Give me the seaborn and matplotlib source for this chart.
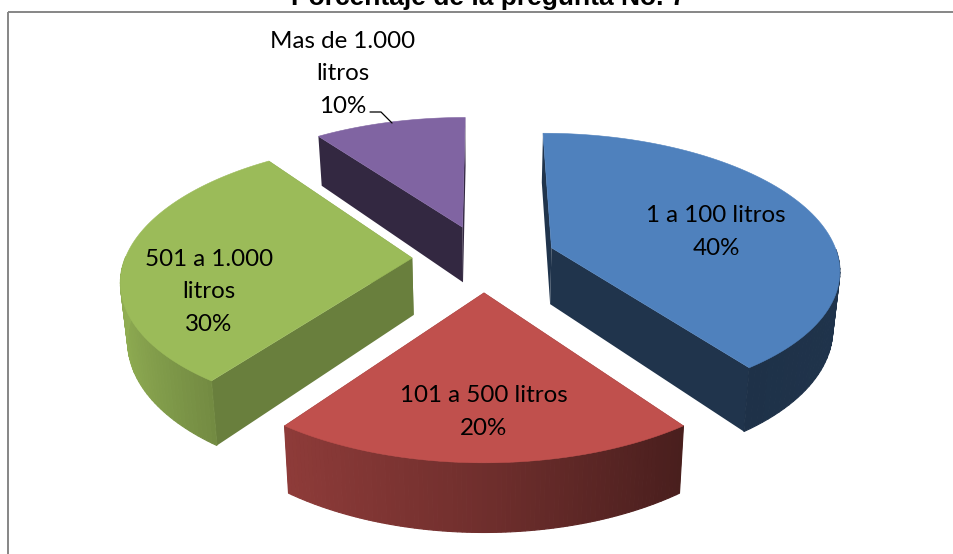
import matplotlib
matplotlib.use("Agg")
import matplotlib.pyplot as plt
from matplotlib.patches import Rectangle
import seaborn as sns
import numpy as np

categorias = ["1 a 100 litros", "101 a 500 litros", "501 a 1.000\nlitros", "Mas de 1.000\nlitros"]
porcentajes = [40, 20, 30, 10]
colores = ["#4F81BD", "#C0504D", "#9BBB59", "#8064A2"]
sombra_interior = [0.40, 0.40, 0.68, 0.40]
# donde va cada etiqueta, en pixeles
pos_etiquetas = [(716, 232), (484, 412), (209, 292), (343, 74)]

# pseudo 3D de la torta, en pixeles de la imagen
CX, CY = 484.0, 258.0
RX, RY = 287.0, 134.0
PERSP = 0.1457
EXPLOTA = 0.25
ALTO = 57.0
ENCOGE = 0.98


def proyectar(u, v):
    s = 1.0 / (1.0 - PERSP * v)
    return CX + RX * u * s, CY + RY * v * s, s


def abajo(x, y, s):
    return CX + (x - CX) * ENCOGE, y + ALTO * s


def tono(color, f):
    return tuple(c * f for c in matplotlib.colors.to_rgb(color))


def sombra_curva(theta):
    # mas claro a la izquierda, mas oscuro a la derecha
    return np.interp(np.sin(theta), [-1, -0.588, 0, 0.588, 1], [0.93, 0.74, 0.58, 0.38, 0.40])


def cuadro(ax, a, b, color, z, lw=0.8):
    xs = [a[0], b[0], b[2], a[2]]
    ys = [a[1], b[1], b[3], a[3]]
    ax.fill(xs, ys, facecolor=color, edgecolor=color if lw else "none", lw=lw, zorder=z)


def dibujar_porcion(ax, ini, fin, color, interior, z):
    medio = (ini + fin) / 2
    du, dv = EXPLOTA * np.sin(medio), -EXPLOTA * np.cos(medio)
    angulos = np.linspace(ini, fin, 90)
    borde = []
    for t in angulos:
        x, y, s = proyectar(du + np.sin(t), dv - np.cos(t))
        xb, yb = abajo(x, y, s)
        borde.append((x, y, xb, yb))
    x0, y0, s0 = proyectar(du, dv)
    xb0, yb0 = abajo(x0, y0, s0)
    centro = (x0, y0, xb0, yb0)
    cara = tono(color, interior)

    # caras rectas primero, luego la curva y encima la tapa
    cuadro(ax, centro, borde[0], cara, z, lw=0)
    cuadro(ax, centro, borde[-1], cara, z, lw=0)
    for i in range(len(borde) - 1):
        t = (angulos[i] + angulos[i + 1]) / 2
        if np.cos(t) < 0:  # solo lo que mira hacia el frente
            cuadro(ax, borde[i], borde[i + 1], tono(color, sombra_curva(t)), z + 0.1 + i * 1e-4)
    xs = [x0] + [b[0] for b in borde]
    ys = [y0] + [b[1] for b in borde]
    ax.fill(xs, ys, facecolor=color, edgecolor=color, lw=0.4, zorder=z + 0.2)


def main():
    sns.set_theme(style="white")
    paleta = sns.color_palette(colores)

    fig = plt.figure(figsize=(9.54, 5.54), dpi=100)
    ax = fig.add_axes([0, 0, 1, 1])
    ax.set_xlim(0, 954)
    ax.set_ylim(554, 0)
    ax.axis("off")

    ax.add_patch(Rectangle((8, 11.5), 980, 600, fill=False, edgecolor="#868686", lw=1.4, zorder=0))

    fracciones = np.array(porcentajes) / sum(porcentajes)
    limites = np.concatenate([[0], np.cumsum(fracciones)]) * 2 * np.pi
    # de atras hacia adelante
    orden = [3, 0, 2, 1]
    for z, i in enumerate(orden):
        dibujar_porcion(ax, limites[i], limites[i + 1], paleta[i], sombra_interior[i], z + 1)

    for cat, pct, (x, y) in zip(categorias, porcentajes, pos_etiquetas):
        ax.text(x, y, f"{cat}\n{pct}%", ha="center", va="center", fontsize=17.4,
                family="Lato", color="black", linespacing=1.66, zorder=10)

    # linea guia de la porcion pequena
    ax.plot([370, 381, 392], [112, 112, 123], color="black", lw=0.9, zorder=10)

    ax.text(488.5, 4.8, "Porcentaje de la pregunta No. 7", ha="center", va="baseline",
            fontsize=19, fontweight="bold", family="Liberation Sans", color="black", zorder=10)

    fig.savefig("out.png", dpi=100, facecolor="white")
    plt.close(fig)


if __name__ == "__main__":
    main()
